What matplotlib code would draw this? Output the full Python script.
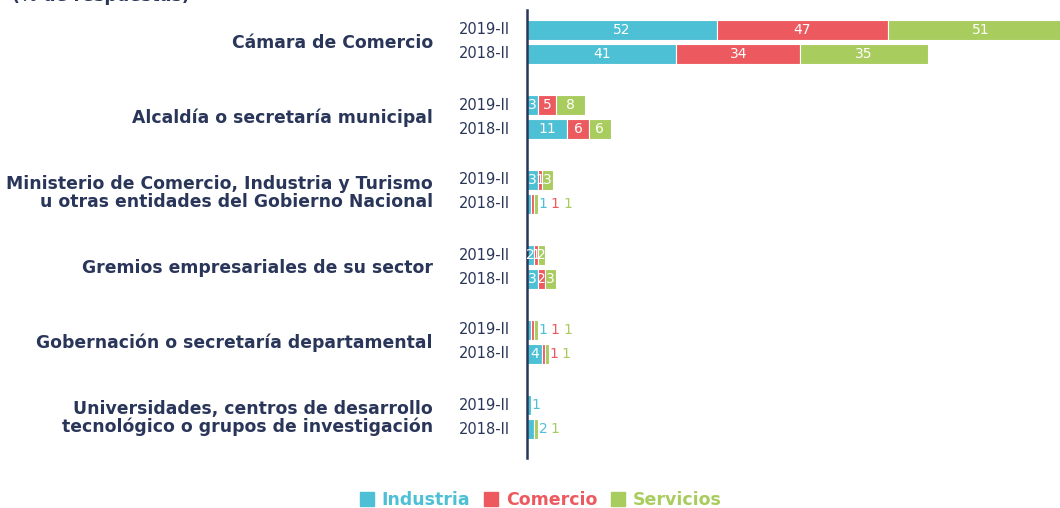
import matplotlib.pyplot as plt
import numpy as np

# Data (% de respuestas)
categories = ['Cámara de Comercio',
              'Alcaldía o secretaría municipal',
              'Ministerio de Comercio, Industria y Turismo\nu otras entidades del Gobierno Nacional',
              'Gremios empresariales de su sector',
              'Gobernación o secretaría departamental',
              'Universidades, centros de desarrollo\ntecnológico o grupos de investigación']
periods = ['2019-II', '2018-II']
series = ['Industria', 'Comercio', 'Servicios']

industria_2019 = [52, 3, 3, 2, 1, 1]
comercio_2019 = [47, 5, 1, 1, 1, 0]
servicios_2019 = [51, 8, 3, 2, 1, 0]
industria_2018 = [41, 11, 1, 3, 4, 2]
comercio_2018 = [34, 6, 1, 2, 1, 0]
servicios_2018 = [35, 6, 1, 3, 1, 1]

# rows whose small values are labelled to the right of the bar
small_2019 = [False, False, False, False, True, True]
small_2018 = [False, False, True, False, True, True]

colors = ['#4ec0d5', '#ec5a5f', '#a9cc5e']
navy = '#2a3659'
plt.rcParams['font.family'] = ['DejaVu Sans']

values = {'2019-II': [industria_2019, comercio_2019, servicios_2019],
          '2018-II': [industria_2018, comercio_2018, servicios_2018]}
small = {'2019-II': small_2019, '2018-II': small_2018}

fig = plt.figure(figsize=(10.6, 5.08), dpi=100)
ax = fig.add_axes([527 / 1060, 1 - 458 / 508, 1 - 527 / 1060, 448 / 508])

px = 3.645  # pixels per percentage point
group_gap = 3.125
bar_h = 0.83
for g, cat in enumerate(categories):
    center = g * group_gap
    ax.text(-94 / px, center + 0.05, cat, ha='right', va='center', fontsize=12.4,
            fontweight='bold', color=navy, linespacing=0.98)
    for p, period in enumerate(periods):
        y = center - 0.5 + p
        ax.text(-17 / px, y, period, ha='right', va='center', fontsize=10.5,
                color=navy)
        left = 0
        n_out = 0
        segs = [values[period][s][g] for s in range(3)]
        total = sum(segs)
        for s in range(3):
            v = segs[s]
            if v == 0:
                continue
            ax.barh(y, v, left=left, height=bar_h, color=colors[s],
                    edgecolor='white', linewidth=0.8)
            if small[period][g] and v < 4:
                ax.annotate(str(v), xy=(total, y), xytext=(0.5 + n_out * 8.8, 0),
                            textcoords='offset points', ha='left', va='center',
                            fontsize=10, color=colors[s])
                n_out += 1
            else:
                ax.text(left + v / 2, y, str(v), ha='center', va='center',
                        fontsize=10, color='white')
            left += v

ax.set_xlim(0, (1060 - 527) / px)
ax.set_ylim(5 * group_gap + 41 / 24, -32 / 24)
for side in ['top', 'right', 'bottom']:
    ax.spines[side].set_visible(False)
ax.spines['left'].set_color(navy)
ax.spines['left'].set_linewidth(1.8)
ax.set_xticks([])
ax.set_yticks([])

fig.text(12 / 1060, 1 - 1 / 508, '(% de respuestas)', ha='left', va='baseline',
         fontsize=12.5, fontweight='bold', color=navy)

handles = [plt.Rectangle((0, 0), 1, 1, color=c) for c in colors]
leg = fig.legend(handles, series, loc='center', bbox_to_anchor=(0.51, 1 - 500 / 508),
                 ncol=3, frameon=False, handlelength=0.8, handleheight=0.8,
                 handletextpad=0.45, columnspacing=0.8,
                 prop={'size': 12.5, 'weight': 'bold'})
for txt, c in zip(leg.get_texts(), colors):
    txt.set_color(c)

fig.savefig('out.png', dpi=100)
